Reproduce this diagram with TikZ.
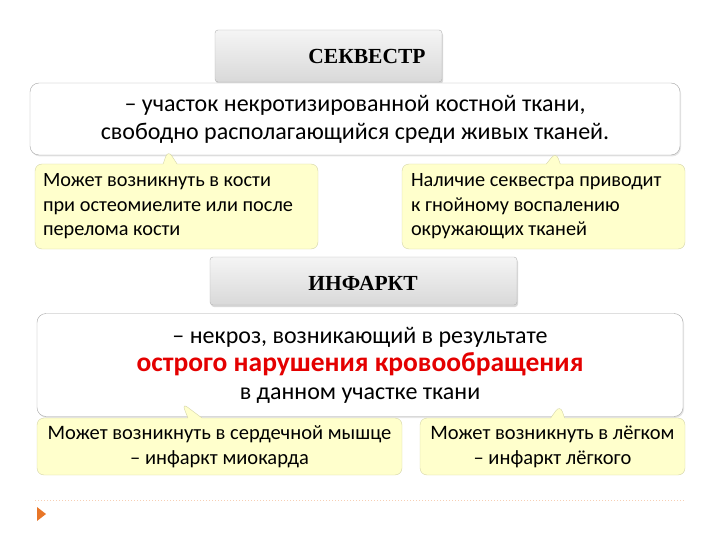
\documentclass[tikz,border=0pt]{standalone}
\usepackage{fontspec}
\setmainfont{Carlito}
\newfontfamily\headfont{Liberation Serif}
\usetikzlibrary{shapes.callouts,shadows,positioning}
\definecolor{notefill}{RGB}{255,255,204}
\definecolor{notedraw}{RGB}{212,212,168}
\definecolor{alertred}{RGB}{228,0,0}
\definecolor{markorange}{RGB}{232,118,40}

\begin{document}
\begin{tikzpicture}[x=1pt, y=-1pt,
    every node/.style={inner sep=0pt},
    headbox/.style={rectangle, rounded corners=3pt, draw=gray!60, top color=gray!8, bottom color=gray!30, drop shadow={opacity=0.3, shadow xshift=1pt, shadow yshift=-2pt}},
    headtext/.style={font=\headfont\bfseries\fontsize{21.5}{24}\selectfont},
    defn/.style={rectangle, rounded corners=9pt, draw=gray!70, fill=white, align=center, font=\fontsize{24}{28}\selectfont, drop shadow={opacity=0.2, shadow xshift=1pt, shadow yshift=-1.5pt}},
    note/.style={rectangle callout, rounded corners=7pt, draw=notedraw, fill=notefill, callout pointer width=14pt},
    lnote/.style={note, align=flush left, inner xsep=8pt, font=\fontsize{20.3}{24.5}\selectfont},
    cnote/.style={note, align=center, font=\fontsize{20.5}{25}\selectfont}
]
    \useasboundingbox (0,0) rectangle (720,540);

    % Sequestrum
    \node[headbox, minimum width=227pt, minimum height=52pt] (sekbox) at (328.5,56) {};
    \node[headtext] (sektitle) at (367,56) {СЕКВЕСТР};
    \node[defn, minimum width=650pt, minimum height=72pt] (sekdef) at (355,119)
        {– участок некротизированной костной ткани,\\свободно располагающийся среди живых тканей.};

    \coordinate (tail1) at (168,150);
    \coordinate (tail2) at (556,152);
    \node[lnote, minimum width=283pt, minimum height=85pt, text width=267pt, callout absolute pointer=(tail1)] (sek1) at (176.5,206.5)
        {Может возникнуть в кости\\при остеомиелите или после\\перелома кости};
    \node[lnote, minimum width=283pt, minimum height=85pt, text width=265pt, callout absolute pointer=(tail2)] (sek2) at (543.5,206.5)
        {Наличие секвестра приводит\\к гнойному воспалению\\окружающих тканей};

    % Infarction
    \node[headbox, minimum width=307pt, minimum height=48pt] (infbox) at (363.5,281) {};
    \node[headtext] (inftitle) at (363,283) {ИНФАРКТ};
    \node[defn, minimum width=646pt, minimum height=103pt] (infdef) at (360,365)
        {– некроз, возникающий в результате\\
         {\color{alertred}\bfseries\fontsize{27.5}{30}\selectfont острого нарушения кровообращения}\\
         в данном участке ткани};

    \coordinate (tail3) at (182,403);
    \coordinate (tail4) at (560,405);
    \node[cnote, minimum width=365pt, minimum height=57pt, callout absolute pointer=(tail3)] (inf1) at (219.5,446.5)
        {Может возникнуть в сердечной мышце\\– инфаркт миокарда};
    \node[cnote, minimum width=265pt, minimum height=57pt, callout absolute pointer=(tail4)] (inf2) at (552.5,446.5)
        {Может возникнуть в лёгком\\– инфаркт лёгкого};

    % Footer
    \coordinate (rule1) at (35,500);
    \coordinate (rule2) at (685,500);
    \draw[markorange!35, dotted, line width=1pt] (rule1) -- (rule2);
    \fill[markorange] (37,507) -- (46,514) -- (37,521) -- cycle;
\end{tikzpicture}
\end{document}
